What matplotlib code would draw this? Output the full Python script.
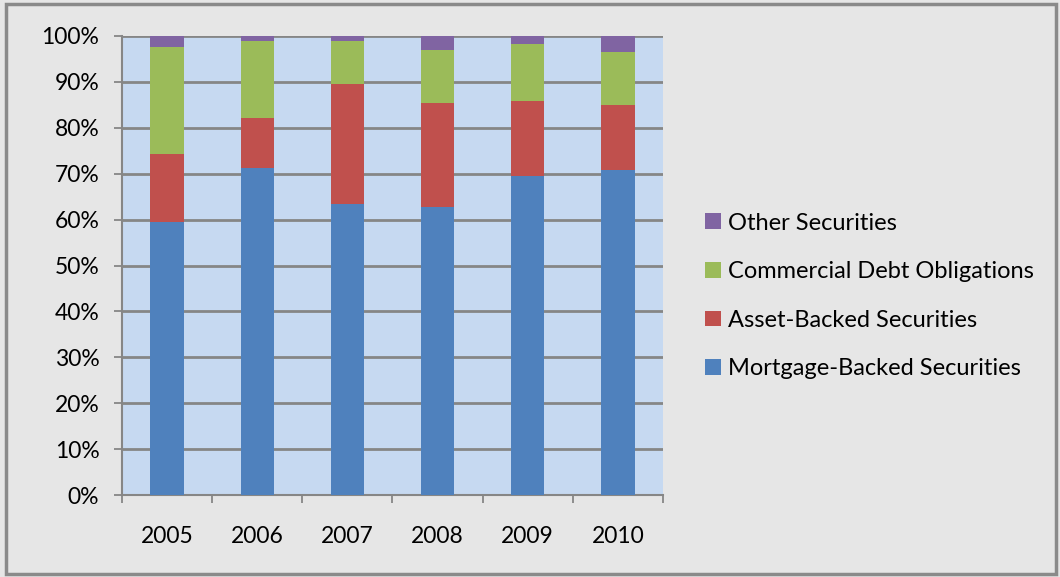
import matplotlib
matplotlib.use("Agg")
import matplotlib.pyplot as plt
from matplotlib.patches import Rectangle
from matplotlib.ticker import MultipleLocator, FuncFormatter

years = ["2005", "2006", "2007", "2008", "2009", "2010"]
mbs = [59.4, 71.2, 63.5, 62.7, 69.4, 70.7]
abs_ = [14.9, 10.9, 26.0, 22.8, 16.4, 14.3]
cdo = [23.2, 16.8, 9.5, 11.4, 12.4, 11.6]
other = [2.5, 1.1, 1.0, 3.1, 1.8, 3.4]

series = [
    ("Mortgage-Backed Securities", mbs, "#4f81bd"),
    ("Asset-Backed Securities", abs_, "#c0504d"),
    ("Commercial Debt Obligations", cdo, "#9bbb59"),
    ("Other Securities", other, "#8064a2"),
]

plt.rcParams['font.family'] = ['Lato', 'DejaVu Sans']

W, H = 1060, 577
fig = plt.figure(figsize=(W / 100, H / 100), dpi=100)
fig.patch.set_facecolor("#e6e6e6")
# outer border
fig.patches.append(Rectangle((6 / W, 3 / H), (W - 10) / W, (H - 7) / H,
                             transform=fig.transFigure, fill=False,
                             edgecolor="#8a8a8a", linewidth=2.5))

left, right, top, bottom = 122, 663, 36, 495
ax = fig.add_axes([left / W, 1 - bottom / H, (right - left) / W, (bottom - top) / H])
ax.set_facecolor("#c6d9f1")

x = list(range(len(years)))
bottoms = [0.0] * len(years)
handles = []
for name, vals, col in series:
    b = ax.bar(x, vals, width=0.37, bottom=bottoms, color=col, label=name,
               zorder=3, edgecolor="none")
    handles.append(b)
    bottoms = [bb + v for bb, v in zip(bottoms, vals)]

ax.set_xlim(-0.5, len(years) - 0.5)
ax.set_ylim(0, 100)
ax.yaxis.set_major_locator(MultipleLocator(10))
ax.yaxis.set_major_formatter(FuncFormatter(lambda v, p: f"{int(round(v))}%"))
ax.grid(axis="y", color="#868686", linewidth=2, zorder=1)
ax.set_axisbelow(True)

ax.set_xticks(x)
ax.set_xticklabels(years)
ax.set_xticks([i - 0.5 for i in range(len(years) + 1)], minor=True)
ax.tick_params(axis="x", which="major", length=0, pad=22, labelsize=16.5)
ax.tick_params(axis="x", which="minor", length=5.8, width=1.3, color="#868686")
ax.tick_params(axis="y", length=5.8, width=1.3, color="#868686", labelsize=16.5, pad=10.5)

for s in ["top", "right"]:
    ax.spines[s].set_visible(False)
for s in ["left", "bottom"]:
    ax.spines[s].set_color("#868686")
    ax.spines[s].set_linewidth(1.5)

leg = fig.legend(handles[::-1], [s[0] for s in series][::-1],
                 loc="center left", bbox_to_anchor=(684 / W, 1 - 296 / H),
                 frameon=False, fontsize=17, handlelength=0.65, handleheight=0.65,
                 handletextpad=0.3, labelspacing=1.17)

fig.savefig("out.png", dpi=100, facecolor=fig.get_facecolor())
